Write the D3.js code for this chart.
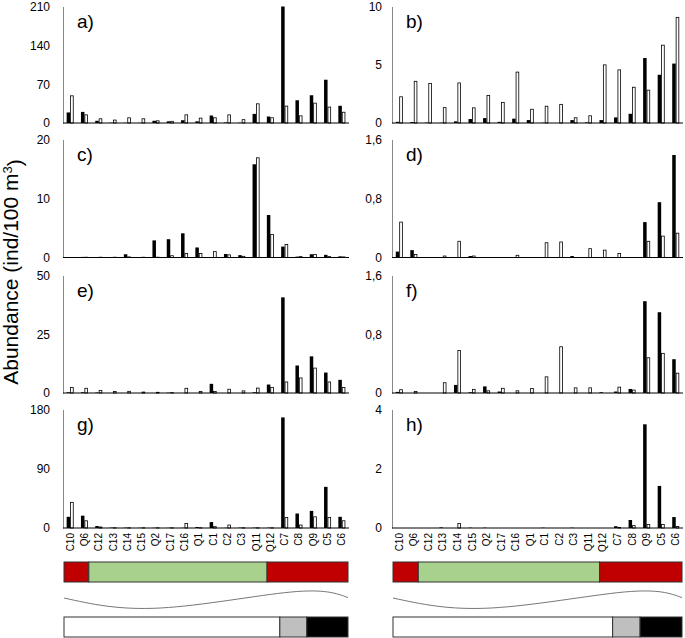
<!DOCTYPE html>
<meta charset="utf-8">
<head>
  <style>
    body { margin: 0; background: #fff; }
    svg { font-family: "Liberation Sans", Arial, sans-serif; }
    .tick-label { font-size: 12px; fill: #000; }
    .cat-label { font-size: 10px; fill: #000; }
  </style>
</head>
<body>
  <script src="https://d3js.org/d3.v7.min.js"></script>
  <script>
    // categories (stations)
    var categories = ["C10", "Q6", "C12", "C13", "C14", "C15", "Q2", "C17", "C16", "Q1",
      "C1", "C2", "C3", "Q11", "Q12", "C7", "C8", "Q9", "C5", "C6"];

    // black / white series per panel
    var aBlack = [19, 20, 4, 0.5, 0.3, 0.3, 4, 3, 5, 3, 13.5, 1, 0.5, 16.4, 11.7, 210, 41, 50, 78, 31];
    var aWhite = [49, 14.7, 7.6, 5.3, 9.4, 7.6, 4, 3, 14.7, 8.8, 9.4, 14.7, 6, 34.6, 9.4, 30.5, 12.9, 35.8, 28.7, 19.4];
    var bBlack = [0.1, 0.08, 0.03, 0.02, 0.14, 0.34, 0.42, 0.1, 0.37, 0.25, 0.02, 0, 0.25, 0.05, 0.25, 0.48, 0.79, 5.58, 4.14, 5.1];
    var bWhite = [2.25, 3.58, 3.4, 1.32, 3.44, 1.3, 2.37, 1.77, 4.37, 1.18, 1.44, 1.6, 0.45, 0.62, 4.99, 4.56, 3.07, 2.82, 6.68, 9.07];
    var cBlack = [0.02, 0.1, 0.08, 0.06, 0.55, 0.05, 2.9, 3.1, 4.1, 1.7, 0.05, 0.6, 0.4, 15.8, 7.2, 1.85, 0.15, 0.55, 0.45, 0.2];
    var cWhite = [0, 0.05, 0.05, 0.05, 0.1, 0.05, 0.05, 0.3, 0.67, 0.67, 1.0, 0.45, 0.2, 16.9, 3.9, 2.2, 0.15, 0.5, 0.15, 0.1];
    var dBlack = [0.08, 0.1, 0, 0, 0, 0.02, 0, 0, 0, 0, 0, 0, 0.02, 0, 0, 0, 0, 0.48, 0.75, 1.39];
    var dWhite = [0.48, 0.04, 0, 0.02, 0.22, 0.02, 0, 0, 0.03, 0, 0.2, 0.21, 0, 0.12, 0.1, 0.055, 0, 0.22, 0.29, 0.33];
    var eBlack = [0.3, 0.3, 0.2, 0, 0, 0, 0, 0.15, 0, 0, 3.9, 0, 0, 0.3, 3.6, 40.7, 11.7, 15.6, 8.7, 5.6];
    var eWhite = [2.4, 2.0, 1.1, 0.6, 0.7, 0.4, 0.3, 0.15, 2.0, 0.6, 0.6, 1.6, 0.9, 2.1, 2.4, 4.7, 6.4, 10.6, 4.7, 2.3];
    var fBlack = [0.015, 0, 0, 0, 0.11, 0.01, 0.09, 0.02, 0, 0, 0, 0, 0, 0, 0.01, 0.02, 0.055, 1.25, 1.1, 0.46];
    var fWhite = [0.045, 0.02, 0, 0.14, 0.58, 0.05, 0.03, 0.064, 0.03, 0.06, 0.22, 0.63, 0.07, 0.07, 0, 0.08, 0.04, 0.48, 0.54, 0.27];
    var gBlack = [17, 18.7, 3, 0.5, 0.5, 0.3, 0.3, 0.3, 0.3, 1.5, 9, 0.3, 0.5, 0.5, 0.5, 168, 22, 26, 62.5, 17];
    var gWhite = [39, 11, 1.5, 0.3, 0.3, 0.3, 0.3, 0.3, 7, 0.3, 2, 4.5, 0.3, 0.3, 0.3, 16, 4.5, 17, 16, 11];
    var hBlack = [0, 0, 0, 0.02, 0, 0.01, 0.01, 0, 0, 0, 0.01, 0, 0.01, 0, 0, 0.06, 0.27, 3.5, 1.42, 0.37];
    var hWhite = [0, 0, 0, 0, 0.15, 0, 0, 0, 0, 0, 0, 0, 0, 0, 0, 0.02, 0.08, 0.12, 0.12, 0.05];

    // y-axis tick values per panel
    var aTicks = [0, 70, 140, 210];
    var bTicks = [0, 5, 10];
    var cTicks = [0, 10, 20];
    var dTicks = [0, 0.8, 1.6];
    var eTicks = [0, 25, 50];
    var fTicks = [0, 0.8, 1.6];
    var gTicks = [0, 90, 180];
    var hTicks = [0, 2, 4];

    // zone strip (positions in category units)
    var zoneStarts = [0, 1.75, 14.3];
    var zoneEnds = [1.75, 14.3, 20];
    var zoneColors = ["#c00000", "#a9d18e", "#c00000"];
    // bottom strip
    var stripStarts = [0, 15.2, 17.1];
    var stripEnds = [15.2, 17.1, 20];
    var stripColors = ["#ffffff", "#bfbfbf", "#000000"];
    // wave line (position in category units, relative level)
    var wavePos = [0, 6.8, 16, 20];
    var waveLevel = [0.25, -1, 1, 0.3];

    var panels = [
      { label: "a)", black: aBlack, white: aWhite, ticks: aTicks, col: 0, row: 0 },
      { label: "b)", black: bBlack, white: bWhite, ticks: bTicks, col: 1, row: 0 },
      { label: "c)", black: cBlack, white: cWhite, ticks: cTicks, col: 0, row: 1 },
      { label: "d)", black: dBlack, white: dWhite, ticks: dTicks, col: 1, row: 1 },
      { label: "e)", black: eBlack, white: eWhite, ticks: eTicks, col: 0, row: 2 },
      { label: "f)", black: fBlack, white: fWhite, ticks: fTicks, col: 1, row: 2 },
      { label: "g)", black: gBlack, white: gWhite, ticks: gTicks, col: 0, row: 3 },
      { label: "h)", black: hBlack, white: hWhite, ticks: hTicks, col: 1, row: 3 }
    ];

    var W = 685, H = 638;
    var colX = [[63, 349], [392, 683]];
    var rowTop = [6.5, 139.5, 275.5, 409.5];
    var rowH = [116.5, 118, 117.5, 118.5];

    var svg = d3.select("body").append("svg")
      .attr("width", W)
      .attr("height", H);

    var fmt = function (v) { return String(v).replace(".", ","); };

    panels.forEach(function (p) {
      var x0 = colX[p.col][0], x1 = colX[p.col][1];
      var top = rowTop[p.row], bottom = top + rowH[p.row];

      var x = d3.scaleBand().domain(categories).range([x0, x1]).paddingInner(0).paddingOuter(0);
      var y = d3.scaleLinear().domain([0, p.ticks[p.ticks.length - 1]]).range([bottom, top]);
      var bw = 3.5;
      var off = x.bandwidth() / 2 - bw;

      var g = svg.append("g");

      // y axis (no tick marks)
      var yAxis = g.append("g")
        .attr("transform", "translate(" + x0 + ",0)")
        .call(d3.axisLeft(y).tickValues(p.ticks).tickSize(0).tickPadding(p.col == 0 ? 13 : 10).tickFormat(fmt));
      yAxis.select(".domain").attr("stroke", "#888").attr("stroke-width", 1);
      yAxis.selectAll("text").attr("class", "tick-label").style("font-size", "12px")
        .attr("font-family", "Liberation Sans, Arial, sans-serif");

      // bars
      g.selectAll("rect.black")
        .data(p.black)
        .enter().append("rect")
        .attr("class", "black")
        .attr("x", function (d, i) { return x(categories[i]) + off; })
        .attr("y", function (d) { return y(d); })
        .attr("width", bw)
        .attr("height", function (d) { return bottom - y(d); })
        .attr("fill", "#000");

      g.selectAll("rect.white")
        .data(p.white)
        .enter().append("rect")
        .attr("class", "white")
        .attr("x", function (d, i) { return x(categories[i]) + off + bw + 0.4; })
        .attr("y", function (d) { return y(d); })
        .attr("width", bw - 0.8)
        .attr("height", function (d) { return Math.max(0, bottom - y(d)); })
        .attr("fill", "#fff")
        .attr("stroke", function (d) { return d > 0 ? "#000" : "none"; })
        .attr("stroke-width", 0.8);

      // x baseline
      g.append("line")
        .attr("x1", x0).attr("x2", x1)
        .attr("y1", bottom).attr("y2", bottom)
        .attr("stroke", "#000").attr("stroke-width", 1);

      // panel label
      g.append("text")
        .attr("x", x0 + 14)
        .attr("y", top + 21)
        .style("font-size", "19px")
        .text(p.label);

      if (p.row == 3) {
        // category labels
        var xa = g.append("g")
          .attr("transform", "translate(0," + bottom + ")")
          .call(d3.axisBottom(x).tickSize(0).tickPadding(0));
        xa.select(".domain").remove();
        xa.selectAll("text")
          .attr("class", "cat-label")
          .style("font-size", "10px")
          .attr("font-family", "Liberation Sans, Arial, sans-serif")
          .attr("transform", "rotate(-90)")
          .attr("text-anchor", "end")
          .attr("x", -5)
          .attr("y", 0)
          .attr("dy", "0.35em");

        var u = d3.scaleLinear().domain([0, 20]).range([x0 + 1, x1 - 1]);

        // zone strip
        g.selectAll("rect.zone")
          .data(zoneColors)
          .enter().append("rect")
          .attr("x", function (d, i) { return u(zoneStarts[i]); })
          .attr("width", function (d, i) { return u(zoneEnds[i]) - u(zoneStarts[i]); })
          .attr("y", 562)
          .attr("height", 20)
          .attr("fill", function (d) { return d; })
          .attr("stroke", "#333")
          .attr("stroke-width", 1);

        // wave
        var wy = d3.scaleLinear().domain([-1, 1]).range([608, 592]);
        var line = d3.line()
          .x(function (d, i) { return u(wavePos[i]); })
          .y(function (d) { return wy(d); })
          .curve(d3.curveNatural);
        g.append("path")
          .attr("d", line(waveLevel))
          .attr("fill", "none")
          .attr("stroke", "#777")
          .attr("stroke-width", 1);

        // bottom strip
        g.selectAll("rect.strip")
          .data(stripColors)
          .enter().append("rect")
          .attr("x", function (d, i) { return u(stripStarts[i]); })
          .attr("width", function (d, i) { return u(stripEnds[i]) - u(stripStarts[i]); })
          .attr("y", 617)
          .attr("height", 20)
          .attr("fill", function (d) { return d; })
          .attr("stroke", "#333")
          .attr("stroke-width", 1);
      }
    });

    // y axis title
    var title = svg.append("text")
      .attr("transform", "translate(18,272) rotate(-90)")
      .attr("text-anchor", "middle")
      .style("font-size", "21px");
    title.append("tspan").text("Abundance (ind/100 m");
    title.append("tspan").attr("dy", "-0.5em").style("font-size", "13px").text("3");
    title.append("tspan").attr("dy", "0.5em").text(")");
  </script>
</body>
